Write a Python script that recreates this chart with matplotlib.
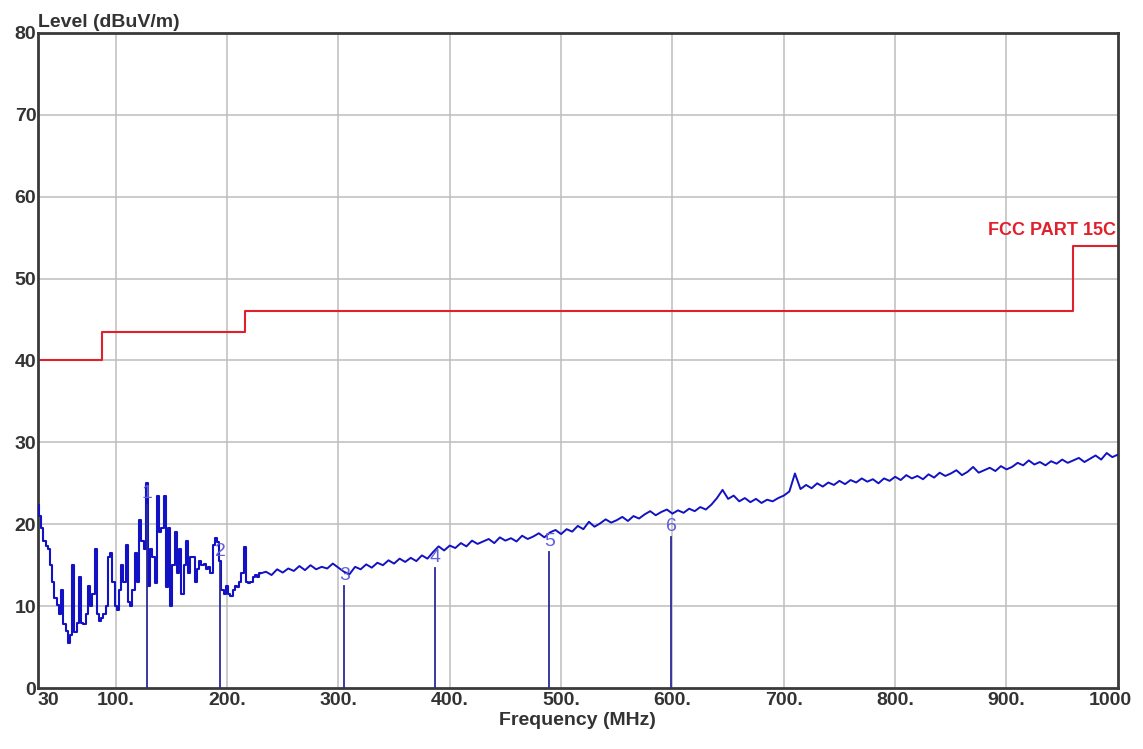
import numpy as np
import matplotlib
matplotlib.use("Agg")
import matplotlib.pyplot as plt
from matplotlib.transforms import ScaledTranslation

# sweep 30-230 MHz, 2 MHz step
low_freq = np.arange(30, 232, 2)
low_level = [22.3, 21.0, 19.5, 18.0, 17.3, 17.0, 15.0, 13.0, 11.0, 10.2,
             9.0, 12.0, 7.8, 7.0, 5.5, 6.5, 15.0, 6.8, 8.0, 13.5,
             8.0, 7.8, 9.0, 12.5, 10.0, 11.5, 17.0, 9.0, 8.2, 8.5,
             9.0, 10.0, 16.0, 16.5, 13.0, 10.0, 9.5, 12.0, 15.0, 13.0,
             17.5, 10.5, 10.0, 12.0, 16.5, 13.0, 20.5, 18.0, 17.0, 25.0,
             12.5, 17.0, 16.0, 12.8, 23.5, 19.0, 19.5, 23.5, 12.3, 19.5,
             10.0, 15.0, 19.0, 14.0, 17.0, 11.5, 15.0, 18.0, 14.0, 16.0,
             16.0, 13.0, 14.5, 15.5, 15.0, 15.2, 14.5, 14.8, 14.0, 17.5,
             18.3, 17.8, 15.5, 12.0, 11.5, 12.5, 11.5, 11.3, 12.0, 12.5,
             12.3, 13.0, 14.0, 17.2, 13.0, 12.8, 13.0, 13.5, 13.8, 13.6,
             14.0]

# sweep 235-1000 MHz, 5 MHz step
high_freq = np.arange(235, 1001, 5)
high_level = [14.2, 13.8, 14.5, 14.1, 14.6, 14.3, 14.9, 14.4, 15.0, 14.5, 14.8, 14.6, 15.2, 14.7,
              14.2, 13.9, 14.8, 14.5, 15.1, 14.7, 15.3, 15.0, 15.6, 15.2,
              15.8, 15.4, 15.9, 15.5, 16.2, 15.8, 16.6, 17.3, 16.8, 17.4,
              17.1, 17.7, 17.3, 18.0, 17.6, 17.9, 18.2, 17.7, 18.4, 18.0,
              18.3, 17.9, 18.6, 18.2, 18.5, 18.9, 18.4, 19.0, 19.3, 18.8,
              19.4, 19.1, 19.8, 19.4, 20.3, 19.7, 20.1, 20.6, 20.2, 20.5,
              20.9, 20.4, 21.0, 20.7, 21.2, 21.6, 21.1, 21.5, 21.8, 21.3,
              21.7, 21.4, 21.9, 21.6, 22.1, 21.8, 22.4, 23.2, 24.2, 23.1,
              23.5, 22.8, 23.2, 22.7, 23.1, 22.6, 23.0, 22.8, 23.2, 23.5,
              24.0, 26.2, 24.3, 24.8, 24.4, 25.0, 24.6, 25.1, 24.8, 25.3,
              24.9, 25.4, 25.1, 25.6, 25.2, 25.5, 25.0, 25.6, 25.3, 25.8,
              25.4, 26.0, 25.6, 25.9, 25.5, 26.1, 25.7, 26.3, 25.9, 26.2,
              26.6, 26.0, 26.4, 27.0, 26.3, 26.6, 26.9, 26.5, 27.1, 26.7,
              27.0, 27.5, 27.2, 27.8, 27.3, 27.6, 27.2, 27.7, 27.4, 27.9,
              27.5, 27.8, 28.1, 27.6, 28.0, 28.4, 27.9, 28.7, 28.2, 28.5]

# FCC part 15C limit
limit_freq = [30, 88, 88, 216, 216, 960, 960, 1000]
limit_level = [40, 40, 43.5, 43.5, 46, 46, 54, 54]

# marked peaks
mark_freq = [128.5, 194.0, 305.5, 386.5, 489.5, 599.0]
mark_level = [22.4, 15.3, 12.4, 14.6, 16.6, 18.4]
mark_names = ["1", "2", "3", "4", "5", "6"]

x_ticks = [30, 100, 200, 300, 400, 500, 600, 700, 800, 900, 1000]
x_labels = ["30", "100.", "200.", "300.", "400.", "500.", "600.", "700.", "800.", "900.", "1000"]
y_ticks = [0, 10, 20, 30, 40, 50, 60, 70, 80]

plt.rcParams['font.family'] = ['Liberation Sans', 'DejaVu Sans']

fig = plt.figure(figsize=(11.43, 7.49), dpi=100)
ax = fig.add_axes([0.033, 0.0814, 0.945, 0.8746])

for x in [100, 200, 300, 400, 500, 600, 700, 800, 900]:
    ax.axvline(x, color='#bdbdbd', lw=1.1, zorder=0)
for y in y_ticks[1:-1]:
    ax.axhline(y, color='#bdbdbd', lw=1.1, zorder=0)

trace = '#1212c4'
ax.plot(low_freq, low_level, color=trace, lw=1.5, drawstyle='steps-mid', zorder=3)
ax.plot(np.concatenate([low_freq[-1:], high_freq]), [low_level[-1]] + high_level,
        color=trace, lw=1.4, zorder=3)
ax.plot(limit_freq, limit_level, color='#e0202a', lw=1.5, zorder=2)

for f, l, n in zip(mark_freq, mark_level, mark_names):
    ax.plot([f, f], [0, l], color='#2a2a9a', lw=1.3, zorder=4)
    ax.text(f, l + 0.3, n, color='#6060d8', fontsize=14, ha='center', va='bottom', zorder=5)

ax.text(998, 54.8, "FCC PART 15C", color='#e0202a', fontsize=13, fontweight='bold',
        ha='right', va='bottom')

ax.set_xlim(30, 1000)
ax.set_ylim(0, 80)
ax.set_xticks(x_ticks)
ax.set_xticklabels(x_labels)
ax.set_yticks(y_ticks)
ax.tick_params(length=0, labelsize=14, labelcolor='#333333', pad=3)
for lab in ax.get_xticklabels() + ax.get_yticklabels():
    lab.set_fontweight('bold')
ax.get_xticklabels()[0].set_horizontalalignment('left')
last = ax.get_xticklabels()[-1]
last.set_transform(last.get_transform() + ScaledTranslation(-0.08, 0, fig.dpi_scale_trans))
ax.tick_params(axis='y', pad=1)

for s in ax.spines.values():
    s.set_color('#3a3a3a')
    s.set_linewidth(2)

ax.set_xlabel("Frequency (MHz)", fontsize=14, fontweight='bold', color='#333333', labelpad=2)
ax.text(0.0, 1.003, "Level (dBuV/m)", transform=ax.transAxes, fontsize=14,
        fontweight='bold', color='#333333', ha='left', va='bottom')

fig.savefig("out.png", dpi=100)
